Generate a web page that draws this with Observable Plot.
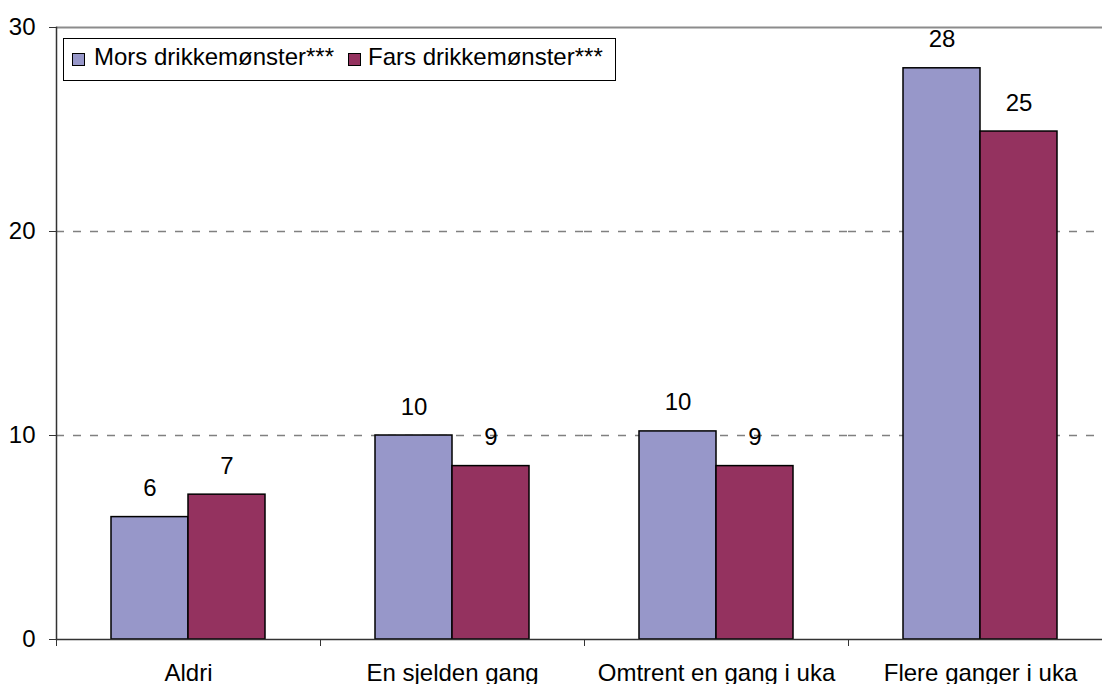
<!DOCTYPE html>
<html><head><meta charset="utf-8">
<script src="https://cdn.jsdelivr.net/npm/d3@7"></script>
<script src="https://cdn.jsdelivr.net/npm/@observablehq/plot@0.6"></script>
<style>
body{margin:0;background:#fff;}
#wrap{position:relative;width:1102px;height:684px;overflow:hidden;font-family:"Liberation Sans",Arial,sans-serif;}
#wrap svg{position:absolute;left:0;top:0;max-width:none;}
#legend{position:absolute;left:63px;top:38px;width:553px;height:43px;border:1px solid #000;background:#fff;box-sizing:border-box;font-size:24px;line-height:24px;color:#000;}
#legend .sw{position:absolute;top:14px;width:13px;height:13px;border:1px solid #000;box-sizing:border-box;}
#legend .tx{position:absolute;top:6px;white-space:nowrap;}
</style></head>
<body><div id="wrap"></div>
<script>
const categories = ["Aldri", "En sjelden gang", "Omtrent en gang i uka", "Flere ganger i uka"];
const series = ["Mors drikkemønster***", "Fars drikkemønster***"];
const mors = [6.0, 10.0, 10.2, 28.0];
const fars = [7.1, 8.5, 8.5, 24.9];
const colors = ["#9797c9", "#94325f"];
const yTicks = [0, 10, 20, 30];

const data = categories.flatMap((c, i) => [
  {category: c, series: series[0], value: mors[i]},
  {category: c, series: series[1], value: fars[i]}
]);

const W = 1112, H = 684, mL = 56, mR = 0, mT = 27, mB = 45;
const halfStep = (W - mL - mR) / categories.length / 2;
const font = "'Liberation Sans', Arial, sans-serif";
const fs = 24;

const plot = Plot.plot({
  width: W, height: H,
  marginLeft: mL, marginRight: mR, marginTop: mT, marginBottom: mB,
  style: {fontFamily: font, fontSize: fs + "px", color: "#000", background: "transparent", overflow: "visible", maxWidth: "none"},
  fx: {domain: categories, padding: 0, label: null},
  x: {domain: series, paddingInner: 0, paddingOuter: 0.71, axis: null},
  y: {domain: [0, 30], label: null},
  color: {domain: series, range: colors},
  marks: [
    Plot.ruleY([10, 20], {stroke: "#808080", strokeWidth: 1.3, strokeDasharray: "8,9"}),
    Plot.ruleY([30], {stroke: "#8c8c8c", strokeWidth: 2}),
    Plot.barY(data, {fx: "category", x: "series", y: "value", fill: "series", stroke: "#000", strokeWidth: 1.5}),
    Plot.text(data, {fx: "category", x: "series", y: "value", text: d => String(Math.round(d.value)), dy: -21, lineAnchor: "bottom", fontSize: fs, fill: "#000"}),
    Plot.ruleY([0], {stroke: "#333", strokeWidth: 1.5}),
    Plot.frame({anchor: "left", facetAnchor: "left", stroke: "#333", strokeWidth: 1.5}),
    Plot.axisY({ticks: yTicks, tickSize: 7, tickPadding: 14, tickFormat: d => String(d), fontSize: fs, label: null, stroke: "#333", fill: "#000"}),
    Plot.axisFx({anchor: "bottom", tickSize: 0, tickPadding: 24, label: null, fontSize: fs, fill: "#000"}),
    Plot.axisFx({anchor: "bottom", tickSize: 7, text: null, dx: -halfStep, label: null, stroke: "#333"})
  ]
});

const wrap = document.getElementById("wrap");
wrap.appendChild(plot);

// legend box (positions relative to its padding box at page x=64, y=39)
const swLeft = [8, 284];
const txLeft = [30, 304];
const legend = document.createElement("div");
legend.id = "legend";
series.forEach((s, i) => {
  const sw = document.createElement("div");
  sw.className = "sw";
  sw.style.left = swLeft[i] + "px";
  sw.style.background = colors[i];
  const t = document.createElement("div");
  t.className = "tx";
  t.style.left = txLeft[i] + "px";
  t.textContent = s;
  legend.appendChild(sw);
  legend.appendChild(t);
});
wrap.appendChild(legend);
</script>
</body></html>
